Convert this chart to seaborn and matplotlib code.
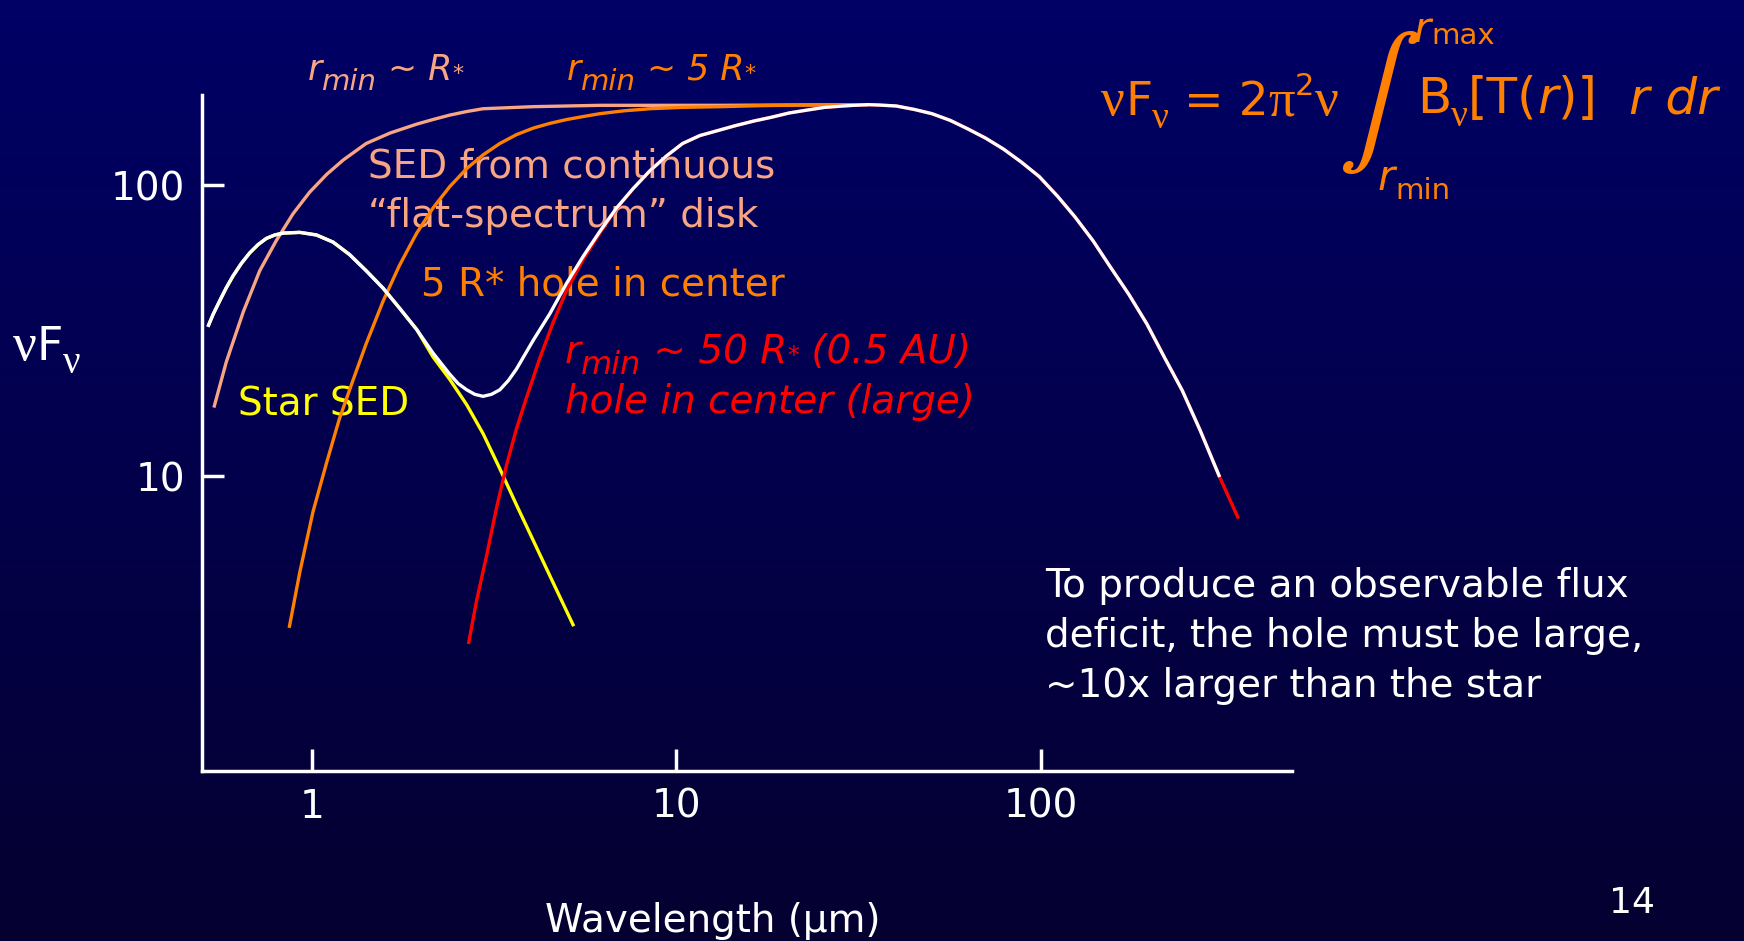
import numpy as np
import pandas as pd
import matplotlib
matplotlib.use("Agg")
import matplotlib.pyplot as plt
from matplotlib.font_manager import FontProperties
import seaborn as sns

# ---------------- data (wavelength in micron, nu F_nu in arbitrary units) ----------------
star_wl = [0.519, 0.536, 0.559, 0.583, 0.608, 0.641, 0.676, 0.713, 0.751, 0.792, 0.834,
           0.927, 1.03, 1.144, 1.27, 1.41, 1.57, 1.74, 1.94, 2.15, 2.39, 2.66, 2.95,
           3.28, 3.64, 4.05, 4.50, 5.23]
star_f = [32.6, 35.9, 40.0, 44.4, 48.7, 53.8, 58.5, 62.5, 65.6, 67.4, 68.4,
          68.8, 67.4, 63.7, 57.7, 50.8, 44.2, 37.8, 31.9, 25.7, 21.5, 17.6, 14.0,
          10.6, 7.98, 6.01, 4.54, 3.05]

total_wl = [0.519, 0.536, 0.559, 0.583, 0.608, 0.641, 0.676, 0.713, 0.751, 0.792, 0.834,
            0.927, 1.03, 1.144, 1.27, 1.41, 1.57, 1.74, 1.94, 2.15, 2.39, 2.52, 2.66,
            2.80, 2.95, 3.11, 3.28, 3.46, 3.64, 4.05, 4.50, 5.00, 5.55, 6.17, 6.85,
            7.61, 8.46, 9.40, 10.4, 11.6, 13.0, 14.5, 16.3, 18.2, 20.4, 22.8, 25.5,
            28.6, 30.6, 33.5, 35.8, 40.1, 44.9, 50.2, 56.3, 63.0, 70.5, 78.9, 88.3,
            98.9, 111, 124, 139, 155, 174, 195, 218, 244, 273, 309]
total_f = [32.6, 35.9, 40.0, 44.4, 48.7, 53.8, 58.5, 62.5, 65.6, 67.4, 68.4,
           68.8, 67.4, 63.7, 57.7, 50.8, 44.2, 37.8, 31.9, 26.5, 22.4, 20.8, 19.8,
           19.1, 18.8, 19.1, 19.8, 21.3, 23.3, 29.3, 36.2, 46.0, 56.9, 69.4, 83.4,
           97.3, 112, 126, 139, 148, 154, 160, 166, 171, 177, 181, 185,
           187, 188, 189, 188.5, 187, 182, 176, 167, 156, 145, 133, 120,
           107, 91.6, 77.7, 64.3, 52.3, 42.2, 33.4, 25.6, 19.7, 14.4, 9.93]

hole50_wl = [2.69, 2.83, 3.02, 3.21, 3.42, 3.64, 3.88, 4.22, 4.59, 5.00,
             5.55, 6.17, 6.85, 7.61, 8.46, 9.40, 10.4, 11.6, 13.0, 14.5, 16.3, 18.2,
             20.4, 22.8, 25.5, 28.6, 30.6, 33.5, 35.8, 40.1, 44.9, 50.2, 56.3, 63.0,
             70.5, 78.9, 88.3, 98.9, 111, 124, 139, 155, 174, 195, 218, 244, 273,
             309, 348]
hole50_f = [2.65, 3.72, 5.37, 7.76, 10.9, 14.5, 18.6, 25.4, 33.7, 43.5,
            55.5, 68.5, 83.0, 97.0, 112, 126, 139, 148, 154, 160, 166, 171,
            177, 181, 185, 187, 188, 189, 188.5, 187, 182, 176, 167, 156,
            145, 133, 120, 107, 91.6, 77.7, 64.3, 52.3, 42.2, 33.4, 25.6, 19.7, 14.4,
            9.93, 7.14]

flat_wl = [0.539, 0.583, 0.649, 0.720, 0.800, 0.889, 0.987, 1.10, 1.22, 1.41, 1.64,
           1.94, 2.15, 2.39, 2.66, 2.95, 3.28, 4.05, 5.00, 6.17, 13.2, 33.5]
flat_f = [17.2, 24.7, 36.7, 50.8, 64.6, 79.8, 94.6, 109, 122, 139, 151,
          162, 168, 174, 179, 183, 184, 186, 187, 188, 188, 189]

hole5_wl = [0.867, 0.927, 1.008, 1.10, 1.19, 1.30, 1.41, 1.57, 1.74, 1.94, 2.15, 2.39,
            2.66, 2.95, 3.28, 3.64, 4.05, 4.50, 5.00, 5.55, 6.17, 7.18, 8.46, 10.4,
            13.2, 17.0, 22.8, 33.5]
hole5_f = [3.01, 4.67, 7.55, 11.2, 15.7, 21.5, 28.5, 40.0, 53.0, 68.4, 83.4, 98.8,
           114, 127, 139, 149, 157, 163, 168, 172, 176, 180, 183, 185,
           186, 187.5, 188.5, 189]

x_ticks = [1, 10, 100]
x_tick_labels = ["1", "10", "100"]
y_ticks = [10, 100]
y_tick_labels = ["10", "100"]

note_lines = ["To produce an observable flux",
              "deficit, the hole must be large,",
              "~10x larger than the star"]

# ---------------- styling ----------------
SALMON = "#F7A583"
ORANGE = "#FF8000"
RED = "#FF0000"
YELLOW = "#FFFF00"
WHITE = "#FFFFFF"
SANS = "DejaVu Sans"
GREEK = "Liberation Serif"

sns.set_style("ticks")
plt.rcParams["font.family"] = [SANS]

W, H = 1744, 941
fig = plt.figure(figsize=(W / 100, H / 100), dpi=100)
renderer = fig.canvas.get_renderer()

# slide background: vertical navy gradient
bg = fig.add_axes([0, 0, 1, 1], zorder=-10)
grad = np.linspace(0, 1, 256)[:, None]
top = np.array([0, 0, 102]) / 255
bottom = np.array([5, 0, 48]) / 255
img = top[None, None, :] * (1 - grad[..., None]) + bottom[None, None, :] * grad[..., None]
bg.imshow(img, aspect="auto", extent=[0, 1, 0, 1])
bg.set_axis_off()

ax = fig.add_axes([202 / W, 1 - 771 / H, 1090 / W, 676 / H])
ax.set_facecolor("none")

curves = [
    (flat_wl, flat_f, SALMON, 2),
    (hole5_wl, hole5_f, ORANGE, 3),
    (star_wl, star_f, YELLOW, 4),
    (hole50_wl, hole50_f, RED, 5),
    (total_wl, total_f, WHITE, 6),
]
for wl, fl, col, z in curves:
    df = pd.DataFrame({"wavelength": wl, "flux": fl})
    sns.lineplot(data=df, x="wavelength", y="flux", sort=False, estimator=None,
                 color=col, lw=2.4, ax=ax, zorder=z,
                 solid_capstyle="butt", solid_joinstyle="round")

ax.set_xscale("log")
ax.set_yscale("log")
ax.set_xlim(0.5, 488)
ax.set_ylim(0.97, 204)
ax.set_xticks(x_ticks)
ax.set_xticklabels(x_tick_labels)
ax.set_yticks(y_ticks)
ax.set_yticklabels(y_tick_labels)
ax.minorticks_off()
ax.set_xlabel("")
ax.set_ylabel("")
for side in ("top", "right"):
    ax.spines[side].set_visible(False)
for side in ("left", "bottom"):
    ax.spines[side].set_color(WHITE)
    ax.spines[side].set_linewidth(2.5)
ax.tick_params(axis="both", which="major", direction="in", length=16, width=2.5,
               color=WHITE, labelcolor=WHITE, labelsize=28, pad=12)


def text_width(s, fp):
    w1, _, _ = renderer.get_text_width_height_descent("|" + s + "|", fp, ismath=False)
    w2, _, _ = renderer.get_text_width_height_descent("||", fp, ismath=False)
    return w1 - w2


def rich(xp, yp, segs, color, style="normal"):
    """Draw a run of text pieces on a common baseline (pixel coords, y down).
    Each piece: (string, size, rise, options)."""
    x = xp
    for seg in segs:
        s, size, rise = seg[:3]
        opts = seg[3] if len(seg) > 3 else {}
        fp = FontProperties(family=opts.get("family", SANS),
                            style=opts.get("style", style), size=size)
        ax.text(x / W, 1 - (yp - rise) / H, s, fontproperties=fp, color=color,
                va="baseline", ha="left", transform=fig.transFigure, zorder=1)
        x += text_width(s, fp)


def label(xp, yp, s, color, size, **kw):
    ax.text(xp / W, 1 - yp / H, s, transform=fig.transFigure, color=color,
            fontsize=size, va="baseline", ha=kw.pop("ha", "left"), zorder=1, **kw)


greek = {"family": GREEK, "style": "normal"}
ital = {"style": "italic"}

# axis titles and slide number
label(713, 932, "Wavelength (\u03bcm)", WHITE, 28, ha="center")
rich(13, 360, [("\u03bd", 38, 0, greek), ("F", 33, 0), ("\u03bd", 28, -13, greek)], WHITE)
label(1655, 913, "14", WHITE, 26, ha="right")

# curve annotations
rich(308, 80, [("r", 25, 0), ("min", 21, -10), (" ~ R", 25, 0), ("*", 16, 0)],
     SALMON, style="italic")
rich(567, 80, [("r", 25, 0), ("min", 21, -10), (" ~ 5 R", 25, 0), ("*", 16, 0)],
     ORANGE, style="italic")
label(368, 177, "SED from continuous", SALMON, 28)
label(368, 227, "\u201cflat-spectrum\u201d disk", SALMON, 28)
label(421, 296, "5 R* hole in center", ORANGE, 28)
label(238, 415, "Star SED", YELLOW, 28)
rich(565, 363, [("r", 28, 0), ("min", 23, -11), (" ~ 50 R", 28, 0), ("*", 17, 0),
                (" (0.5 AU)", 28, 0)], RED, style="italic")
label(565, 413, "hole in center (large)", RED, 28, style="italic")

# explanatory note
for i, line in enumerate(note_lines):
    label(1045, 597 + 50 * i, line, WHITE, 28)

# formula for the disk SED
rich(1101, 115, [("\u03bd", 38, 0, greek), ("F", 34, 0), ("\u03bd", 27, -13, greek),
                 (" = 2", 34, 0), ("\u03c0", 38, 0, greek), ("2", 22, 20),
                 ("\u03bd", 38, 0, greek)], ORANGE)
ax.text(1368 / W, 1 - 103 / H, "\u222b", transform=fig.transFigure, color=ORANGE,
        fontsize=90, va="center", ha="center", family="STIXGeneral", zorder=1)
rich(1414, 42, [("r", 30, 0, ital), ("max", 21, -2)], ORANGE)
rich(1378, 190, [("r", 30, 0, ital), ("min", 21, -9)], ORANGE)
rich(1417, 113, [("B", 36, 0), ("\u03bd", 27, -13, greek), ("[T(", 36, 0),
                 ("r", 36, 0, ital), (")]  ", 36, 0),
                 ("r dr", 36, 0, ital)], ORANGE)

fig.savefig("out.png", dpi=100)
